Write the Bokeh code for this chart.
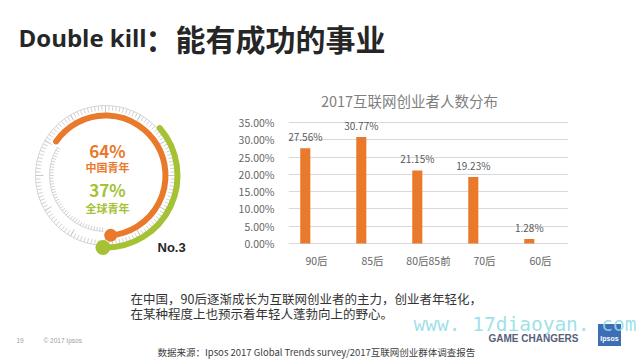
import numpy as np
from bokeh.plotting import figure
from bokeh.models import (Range1d, FactorRange, Label, LabelSet, ColumnDataSource,
                          FixedTicker, PrintfTickFormatter)
from bokeh.transform import dodge
from bokeh.layouts import column, row
from bokeh.embed import file_html
from bokeh.resources import INLINE
from bokeh.core.properties import value

# ---------------- data ----------------
categories = ["90后", "85后", "80后85前", "70后", "60后"]
shares = [27.56, 30.77, 21.15, 19.23, 1.28]
y_ticks = [0, 5, 10, 15, 20, 25, 30, 35]
chart_title = "2017互联网创业者人数分布"
gauge_groups = ["中国青年", "全球青年"]
gauge_values = [64, 37]
gauge_rank = "No.3"
page_title_latin = "Double kill"
page_title_cjk = "：能有成功的事业"
note_lines = ["在中国，90后逐渐成长为互联网创业者的主力，创业者年轻化，",
              "在某种程度上也预示着年轻人蓬勃向上的野心。"]
source_text = "数据来源：Ipsos 2017 Global Trends survey/2017互联网创业群体调查报告"
watermark = "www. 17diaoyan. com"

ORANGE = "#E97A2C"
GREEN = "#A4C233"
CJK = "Noto Sans CJK SC"
PH = 360  # picture height (y flip helper)


def base_fig(w, h, x0, x1, y0, y1):
    p = figure(width=w, height=h, x_range=Range1d(x0, x1), y_range=Range1d(y0, y1),
               output_backend="svg", toolbar_location=None,
               x_axis_location=None, y_axis_location=None, min_border=0,
               outline_line_color=None, background_fill_color="white",
               border_fill_color="white")
    p.xgrid.visible = False
    p.ygrid.visible = False
    return p


def Y(ry):
    return PH - ry


# ---------------- title strip ----------------
tf = base_fig(640, 85, 0, 640, Y(85), Y(0))
tf.add_layout(Label(x=18, y=Y(37), text=page_title_latin, text_font="Open Sans",
                    text_font_size="24px", text_font_style="bold", text_color="#262626",
                    text_baseline="middle"))
tf.add_layout(Label(x=145, y=Y(37), text=page_title_cjk, text_font=CJK,
                    text_font_size="30px", text_font_style="bold", text_color="#262626",
                    text_baseline="middle"))

# ---------------- gauge ----------------
gf = base_fig(235, 187, 0, 235, Y(272), Y(85))
cx, cy = 105, Y(175)
r_or, r_gr = 60, 72

ang = np.deg2rad(np.arange(0, 360, 3))
gf.arc(x=[cx], y=[cy], radius=70, start_angle=0, end_angle=2 * np.pi,
       line_color="#d6d6d6", line_width=1)
gf.segment(x0=cx + 65 * np.cos(ang), y0=cy + 65 * np.sin(ang),
           x1=cx + 70 * np.cos(ang), y1=cy + 70 * np.sin(ang),
           line_color="#d2d2d2", line_width=1)
angL = np.deg2rad(np.arange(0, 360, 30))
gf.segment(x0=cx + 62 * np.cos(angL), y0=cy + 62 * np.sin(angL),
           x1=cx + 70 * np.cos(angL), y1=cy + 70 * np.sin(angL),
           line_color="#c8c8c8", line_width=1)
angI = np.deg2rad(np.arange(150, 270, 3))
gf.arc(x=[cx], y=[cy], radius=56, start_angle=np.deg2rad(150), end_angle=np.deg2rad(268),
       line_color="#d6d6d6", line_width=1)
gf.segment(x0=cx + 52 * np.cos(angI), y0=cy + 52 * np.sin(angI),
           x1=cx + 56 * np.cos(angI), y1=cy + 56 * np.sin(angI),
           line_color="#d2d2d2", line_width=1)

ends = [np.deg2rad(-85), np.deg2rad(-92)]
radii = [r_or, r_gr]
colors = [ORANGE, GREEN]
dots = [6.5, 7.5]
for v, e, r, c, d in zip(gauge_values, ends, radii, colors, dots):
    gf.arc(x=[cx], y=[cy], radius=r, start_angle=e, end_angle=e + v / 100 * 2 * np.pi,
           line_color=c, line_width=6, line_cap="round")
    gf.circle(x=[cx + r * np.cos(e)], y=[cy + r * np.sin(e)], radius=d,
              fill_color=c, line_color=None)

text_y = [(150, 166), (189, 207)]
for v, g, c, (ya, yb) in zip(gauge_values, gauge_groups, colors, text_y):
    gf.add_layout(Label(x=107, y=Y(ya), text=f"{v}%", text_font=CJK, text_font_size="17px",
                        text_font_style="bold", text_color=c, text_align="center",
                        text_baseline="middle"))
    gf.add_layout(Label(x=107, y=Y(yb), text=g, text_font=CJK, text_font_size="11px",
                        text_font_style="bold", text_color=c, text_align="center",
                        text_baseline="middle"))
gf.add_layout(Label(x=157, y=Y(246.5), text=gauge_rank, text_font="Liberation Sans",
                    text_font_size="13px", text_font_style="bold", text_color="#262626",
                    text_baseline="middle"))

# ---------------- bar chart ----------------
# frame spans the whole row height; value axis placed so that 0 -> y243, 35 -> y122
k = (243 - 122) / 35.0
bf = figure(width=355, height=187, x_range=FactorRange(*categories),
            y_range=Range1d(-(272 - 243) / k, 35 + (122 - 85) / k),
            output_backend="svg", toolbar_location=None, x_axis_location=None,
            min_border_left=53, min_border_right=22, min_border_top=0, min_border_bottom=0,
            outline_line_color=None, background_fill_color="white", border_fill_color="white")
src = ColumnDataSource(dict(cat=categories, val=shares, lbl=[f"{v:.2f}%" for v in shares]))
bf.vbar(x=dodge("cat", -0.2, range=bf.x_range), top="val", width=0.18, source=src,
        fill_color=ORANGE, line_color=None)
bf.add_layout(LabelSet(x=dodge("cat", -0.2, range=bf.x_range), y="val", text="lbl", source=src,
                       text_align="center", text_baseline="bottom", y_offset=4,
                       text_font=value(CJK), text_font_size="10px", text_color="#595959"))
# category labels under the baseline
bf.add_layout(LabelSet(x="cat", y=0, text="cat", source=src, y_offset=-17,
                       text_align="center", text_baseline="middle",
                       text_font=value(CJK), text_font_size="10.5px", text_color="#666666"))
bf.xgrid.visible = False
bf.ygrid.grid_line_color = "#d9d9d9"
bf.ygrid.grid_line_width = 1
bf.yaxis.ticker = FixedTicker(ticks=y_ticks)
bf.yaxis.formatter = PrintfTickFormatter(format="%.2f%%")
bf.yaxis.axis_line_color = None
bf.yaxis.major_tick_line_color = None
bf.yaxis.minor_tick_line_color = None
bf.yaxis.major_label_text_font = CJK
bf.yaxis.major_label_text_font_size = "10.5px"
bf.yaxis.major_label_text_color = "#666666"
bf.yaxis.major_label_standoff = 8
# chart title, anchored on the middle category and shifted left
tsrc = ColumnDataSource(dict(x=[categories[2]], y=[35 + 22 / k], t=[chart_title]))
bf.add_layout(LabelSet(x="x", y="y", text="t", source=tsrc, x_offset=-19,
                       text_align="center", text_baseline="middle",
                       text_font=value(CJK), text_font_size="14.5px", text_color="#7f7f7f"))

rf = base_fig(50, 187, 0, 1, 0, 1)

# ---------------- bottom strip ----------------
nf = base_fig(640, 88, 0, 640, Y(360), Y(272))
for ln, ry in zip(note_lines, [298, 312.5]):
    nf.add_layout(Label(x=130, y=Y(ry), text=ln, text_font=CJK, text_font_size="12.5px",
                        text_color="#333333", text_baseline="middle"))
nf.rect(x=[609], y=[Y(334.5)], width=23, height=22, fill_color="#3d6db5", line_color=None)
nf.add_layout(Label(x=609, y=Y(338), text="Ipsos", text_font="Liberation Sans",
                    text_font_size="7px", text_font_style="bold", text_color="white",
                    text_align="center", text_baseline="middle"))
nf.add_layout(Label(x=413, y=Y(324), text=watermark, text_font="DejaVu Sans Mono",
                    text_font_size="19.5px", text_color="#93dde6", text_alpha=0.9,
                    text_baseline="alphabetic"))
nf.add_layout(Label(x=488, y=Y(338), text="GAME CHANGERS", text_font="Liberation Sans",
                    text_font_size="10px", text_font_style="bold", text_color="#56607a",
                    text_baseline="middle"))
nf.add_layout(Label(x=157, y=Y(351), text=source_text, text_font=CJK,
                    text_font_size="9.5px", text_color="#404040", text_baseline="middle"))
nf.add_layout(Label(x=16, y=Y(340), text="19", text_font="Liberation Sans",
                    text_font_size="6.5px", text_color="#a0a0a0", text_baseline="middle"))
nf.add_layout(Label(x=43, y=Y(340), text="© 2017 Ipsos", text_font="Liberation Sans",
                    text_font_size="6.5px", text_color="#a0a0a0", text_baseline="middle"))

layout = column(tf, row(gf, bf, rf), nf)
open("out.html", "w").write(file_html(layout, INLINE))
